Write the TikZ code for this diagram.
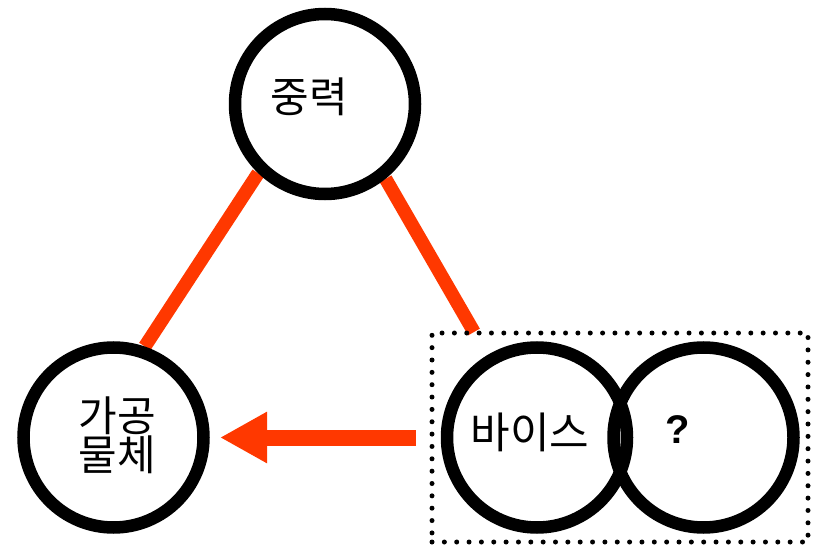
\documentclass[tikz,border=0pt]{standalone}
\usepackage{fontspec}
\newfontfamily\kr{Noto Sans CJK KR}
\newfontfamily\qfont{Liberation Sans}
\usetikzlibrary{arrows.meta,calc}
\pgfdeclarelayer{background}
\pgfsetlayers{background,main}
\definecolor{linkred}{RGB}{255,56,0}
\begin{document}
\begin{tikzpicture}[x=1pt,y=1pt,
  ring/.style={circle,draw=black,line width=12.5pt,minimum size=180pt,inner sep=0pt},
  link/.style={draw=linkred,line width=13.5pt},
  push/.style={draw=linkred,line width=16pt,-{Triangle[length=47pt,width=48pt]}},
  dotbox/.style={draw=black,line width=5pt,line cap=round,dash pattern=on 0pt off 12.35pt,minimum width=376pt,minimum height=209pt,inner sep=0pt},
  lbl/.style={font=\kr\fontsize{42}{42}\selectfont,inner sep=0pt}]
\useasboundingbox (0,0) rectangle (814,547);
\node[dotbox] (box) at (620,109.5) {};
\node[ring] (top) at (325,443) {};
\node[ring] (left) at (113.5,109.5) {};
\node[ring] (vise) at (537,109.5) {};
\node[ring] (q) at (703.5,109.5) {};
\node[lbl] (t1) at (309,450) {중력};
\node[lbl,font=\kr\fontsize{42}{35}\selectfont,align=center] (t2) at (117,112) {가공\\물체};
\node[lbl,font=\kr\fontsize{43}{43}\selectfont] (t3) at (530,115) {바이스};
\node[lbl,font=\qfont\bfseries\fontsize{40}{40}\selectfont] (t4) at (678,117) {?};
\coordinate (rb) at (474,215);
\begin{pgfonlayer}{background}
\draw[link] (top.-134) -- (left.71);
\draw[link] (top.-51) -- (rb);
\end{pgfonlayer}
\draw[push,shorten <=24.75pt,shorten >=10.25pt] (vise) -- (left);
\end{tikzpicture}
\end{document}
